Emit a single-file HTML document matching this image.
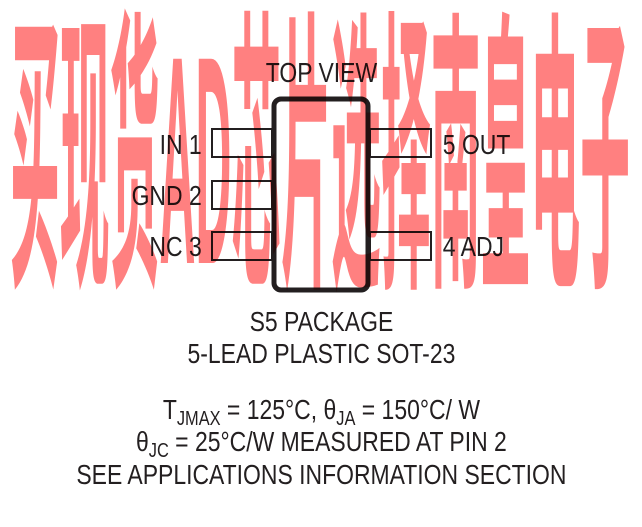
<!DOCTYPE html>
<html><head><meta charset="utf-8"><style>
html,body{margin:0;padding:0;background:#fff;width:642px;height:527px;overflow:hidden}
svg{display:block}
</style></head><body>
<svg width="642" height="527" viewBox="0 0 642 527" xmlns="http://www.w3.org/2000/svg">
<g font-family="Liberation Sans, sans-serif" fill="#231f20">
<g font-size="28" transform="scale(0.82,1)">
<text x="392" y="82" text-anchor="middle">TOP VIEW</text>
<text x="246" y="154" text-anchor="end">IN 1</text>
<text x="246" y="205" text-anchor="end">GND 2</text>
<text x="246" y="256" text-anchor="end">NC 3</text>
<text x="540" y="154">5 OUT</text>
<text x="540" y="256">4 ADJ</text>
<text x="392" y="331" text-anchor="middle">S5 PACKAGE</text>
<text x="392" y="363" text-anchor="middle">5-LEAD PLASTIC SOT-23</text>
<text x="392" y="419" text-anchor="middle">T<tspan font-size="20" dy="6">JMAX</tspan><tspan dy="-6"> = 125°C, θ</tspan><tspan font-size="20" dy="6">JA</tspan><tspan dy="-6"> = 150°C/ W</tspan></text>
<text x="392" y="451" text-anchor="middle">θ<tspan font-size="20" dy="6">JC</tspan><tspan dy="-6"> = 25°C/W MEASURED AT PIN 2</tspan></text>
<text x="392" y="484" text-anchor="middle">SEE APPLICATIONS INFORMATION SECTION</text>
</g>
</g>
<g fill="none" stroke="#231f20" stroke-width="2">
<rect x="212" y="129" width="60" height="28"/>
<rect x="212" y="181" width="60" height="28"/>
<rect x="212" y="232" width="60" height="28"/>
<rect x="370" y="129" width="61" height="28"/>
<rect x="370" y="232" width="61" height="28"/>
</g>
<rect x="274" y="99" width="94" height="191" rx="7" fill="#fff" stroke="#231f20" stroke-width="5"/>
<g style="mix-blend-mode:multiply">
<text x="0" y="0" transform="translate(10,263) scale(1,5.3)" font-family="Liberation Sans, Noto Sans CJK SC, sans-serif" font-weight="bold" font-size="56" fill="#ff8080" textLength="620" lengthAdjust="spacingAndGlyphs">买现货AD芯片选择南皇电子</text>
</g>
</svg>
</body></html>
